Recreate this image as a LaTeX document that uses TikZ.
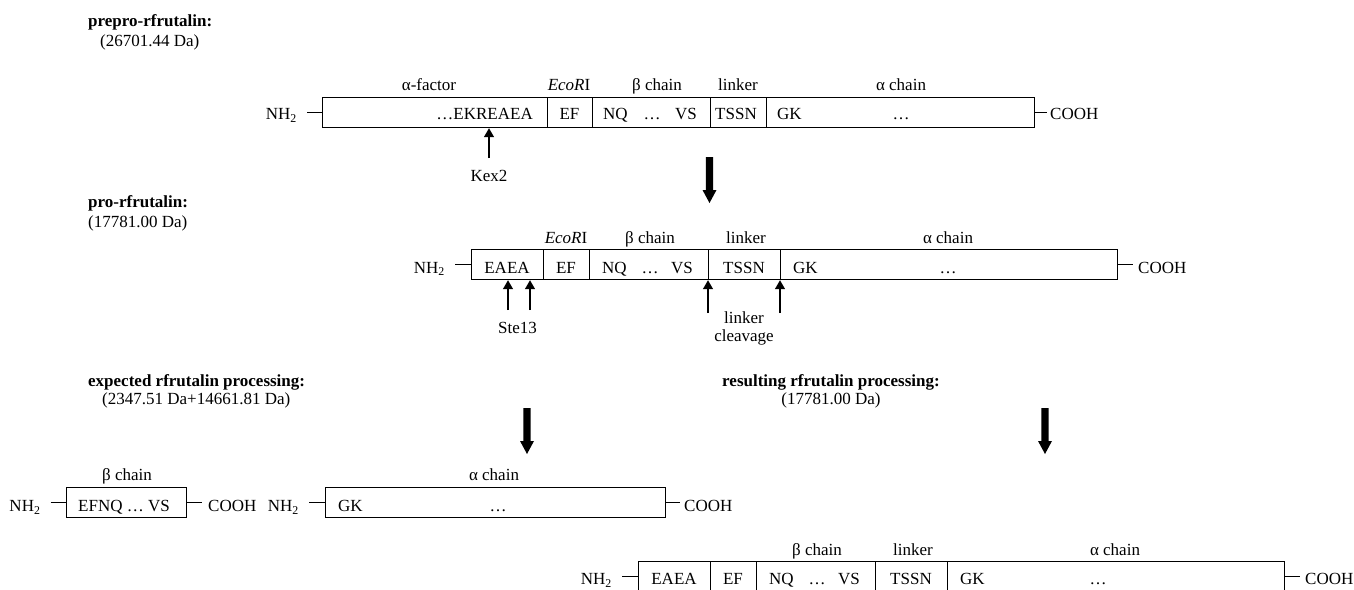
\documentclass[tikz,border=0pt]{standalone}
\usepackage{fontspec}
\setmainfont{Liberation Serif}
\usetikzlibrary{arrows.meta}
\begin{document}
\begin{tikzpicture}[x=1pt,y=-1pt,
  font=\fontsize{17}{20}\selectfont,
  seg/.style={draw, line width=1.2pt, minimum height=30pt, inner sep=0pt, anchor=north west},
  txt/.style={inner sep=0pt, anchor=base},
  txtw/.style={inner sep=0pt, anchor=base west},
  txte/.style={inner sep=0pt, anchor=base east},
  link/.style={line width=1.2pt},
  cleave/.style={line width=1.3pt, -{Triangle[length=9pt,width=10pt]}},
  bigdown/.pic={\fill (-3.6,0) -- (3.6,0) -- (3.6,33) -- (7,33) -- (0,46) -- (-7,33) -- (-3.6,33) -- cycle;}
]
\useasboundingbox (0,0) rectangle (1354,589);
\clip (0,0) rectangle (1354,589);

% ---------- titles ----------
\node[txtw] (ti1) at (88,27) {\textbf{prepro-rfrutalin:}};
\node[txtw] (ti1m) at (100,46) {(26701.44 Da)};
\node[txtw] (ti2) at (88,207) {\textbf{pro-rfrutalin:}};
\node[txtw] (ti2m) at (88,227) {(17781.00 Da)};
\node[txtw] (ti3) at (88,386) {\textbf{expected rfrutalin processing:}};
\node[txtw] (ti3m) at (102,404) {(2347.51 Da+14661.81 Da)};
\node[txt] (ti4) at (831,386) {\textbf{resulting rfrutalin processing:}};
\node[txt] (ti4m) at (831,404) {(17781.00 Da)};

% ---------- row 1 ----------
\node[seg, minimum width=225pt] (r1a) at (322,97) {};
\node[seg, minimum width=45pt] (r1b) at (547,97) {};
\node[seg, minimum width=118pt] (r1c) at (592,97) {};
\node[seg, minimum width=56pt] (r1d) at (710,97) {};
\node[seg, minimum width=268pt] (r1e) at (766,97) {};
\node[txte] (t1a) at (533,119.5) {…EKREAEA};
\node[txt] (t1b) at (569.5,119.5) {EF};
\node[txtw] (t1c1) at (603,119.5) {NQ};
\node[txt] (t1c2) at (652,119.5) {…};
\node[txte] (t1c3) at (697,119.5) {VS};
\node[txt] (t1d) at (736,119.5) {TSSN};
\node[txtw] (t1e1) at (777,119.5) {GK};
\node[txt] (t1e2) at (901,119.5) {…};
\node[txt] (l1a) at (429,90) {α-factor};
\node[txt] (l1b) at (569,90) {\textit{EcoR}I};
\node[txt] (l1c) at (657,90) {β chain};
\node[txt] (l1d) at (738,90) {linker};
\node[txt] (l1e) at (901,90) {α chain};
\node[txte] (nh1) at (297,119.5) {NH\textsubscript{2}};
\node[txtw] (co1) at (1050,119.5) {COOH};
\draw[link] ([xshift=10pt]nh1.east |- r1a.west) -- (r1a.west);
\draw[link] (r1e.east) -- ([xshift=-3pt]co1.west |- r1e.east);
\node[txt] (kex) at (489,181) {Kex2};
\coordinate (kexs) at (489,158);
\draw[cleave] (kexs) -- (kexs |- r1a.south);
\pic (ar1) at (709.5,157) {bigdown};

% ---------- row 2 ----------
\node[seg, minimum width=72pt] (r2a) at (471,249) {};
\node[seg, minimum width=46pt] (r2b) at (543,249) {};
\node[seg, minimum width=119pt] (r2c) at (589,249) {};
\node[seg, minimum width=72pt] (r2d) at (708,249) {};
\node[seg, minimum width=337pt] (r2e) at (780,249) {};
\node[txt] (t2a) at (507,273) {EAEA};
\node[txt] (t2b) at (566,273) {EF};
\node[txtw] (t2c1) at (602,273) {NQ};
\node[txt] (t2c2) at (650,273) {…};
\node[txte] (t2c3) at (693,273) {VS};
\node[txt] (t2d) at (744,273) {TSSN};
\node[txtw] (t2e1) at (793,273) {GK};
\node[txt] (t2e2) at (948,273) {…};
\node[txt] (l2b) at (566,243) {\textit{EcoR}I};
\node[txt] (l2c) at (650,243) {β chain};
\node[txt] (l2d) at (746,243) {linker};
\node[txt] (l2e) at (948,243) {α chain};
\node[txte] (nh2) at (445,273) {NH\textsubscript{2}};
\node[txtw] (co2) at (1138,273) {COOH};
\draw[link] ([xshift=10pt]nh2.east |- r2a.west) -- (r2a.west);
\draw[link] (r2e.east) -- ([xshift=-5pt]co2.west |- r2e.east);
\coordinate (st1) at (508,310);
\coordinate (st2) at (530,310);
\coordinate (lc1) at (708,313);
\coordinate (lc2) at (780,313);
\draw[cleave] (st1) -- (st1 |- r2a.south);
\draw[cleave] (st2) -- (st2 |- r2a.south);
\draw[cleave] (lc1) -- (lc1 |- r2a.south);
\draw[cleave] (lc2) -- (lc2 |- r2a.south);
\node[txt] (ste) at (517.5,333) {Ste13};
\node[txt] (lcl1) at (744,323.5) {linker};
\node[txt] (lcl2) at (744,341) {cleavage};

% ---------- arrows ----------
\pic (ar2) at (527,408) {bigdown};
\pic (ar3) at (1045,408) {bigdown};

% ---------- row 3 (expected) ----------
\node[seg, minimum width=120pt] (b3) at (66,487) {};
\node[txt] (t3b) at (124,511.5) {EFNQ … VS};
\node[txt] (l3b) at (127,480) {β chain};
\node[txte] (nh3a) at (40.7,511.5) {NH\textsubscript{2}};
\node[txtw] (co3a) at (208,511.5) {COOH};
\draw[link] ([xshift=10pt]nh3a.east |- b3.west) -- (b3.west);
\draw[link] (b3.east) -- ([xshift=-6pt]co3a.west |- b3.east);
\node[seg, minimum width=340pt] (a3) at (325,487) {};
\node[txtw] (t3a1) at (338,511.5) {GK};
\node[txt] (t3a2) at (498,511.5) {…};
\node[txt] (l3a) at (494,480) {α chain};
\node[txte] (nh3b) at (299,511.5) {NH\textsubscript{2}};
\node[txtw] (co3b) at (684,511.5) {COOH};
\draw[link] ([xshift=10pt]nh3b.east |- a3.west) -- (a3.west);
\draw[link] (a3.east) -- ([xshift=-4pt]co3b.west |- a3.east);

% ---------- row 4 (resulting) ----------
\node[seg, minimum width=72pt] (r4a) at (638,561) {};
\node[seg, minimum width=46pt] (r4b) at (710,561) {};
\node[seg, minimum width=119pt] (r4c) at (756,561) {};
\node[seg, minimum width=72pt] (r4d) at (875,561) {};
\node[seg, minimum width=337pt] (r4e) at (947,561) {};
\node[txt] (t4a) at (674,584.5) {EAEA};
\node[txt] (t4b) at (733,584.5) {EF};
\node[txtw] (t4c1) at (769,584.5) {NQ};
\node[txt] (t4c2) at (817,584.5) {…};
\node[txte] (t4c3) at (860,584.5) {VS};
\node[txt] (t4d) at (911,584.5) {TSSN};
\node[txtw] (t4e1) at (960,584.5) {GK};
\node[txt] (t4e2) at (1098,584.5) {…};
\node[txt] (l4c) at (817,555) {β chain};
\node[txt] (l4d) at (913,555) {linker};
\node[txt] (l4e) at (1115,555) {α chain};
\node[txte] (nh4) at (612,584.5) {NH\textsubscript{2}};
\node[txtw] (co4) at (1305,584.5) {COOH};
\draw[link] ([xshift=10pt]nh4.east |- r4a.west) -- (r4a.west);
\draw[link] (r4e.east) -- ([xshift=-5pt]co4.west |- r4e.east);
\end{tikzpicture}
\end{document}
